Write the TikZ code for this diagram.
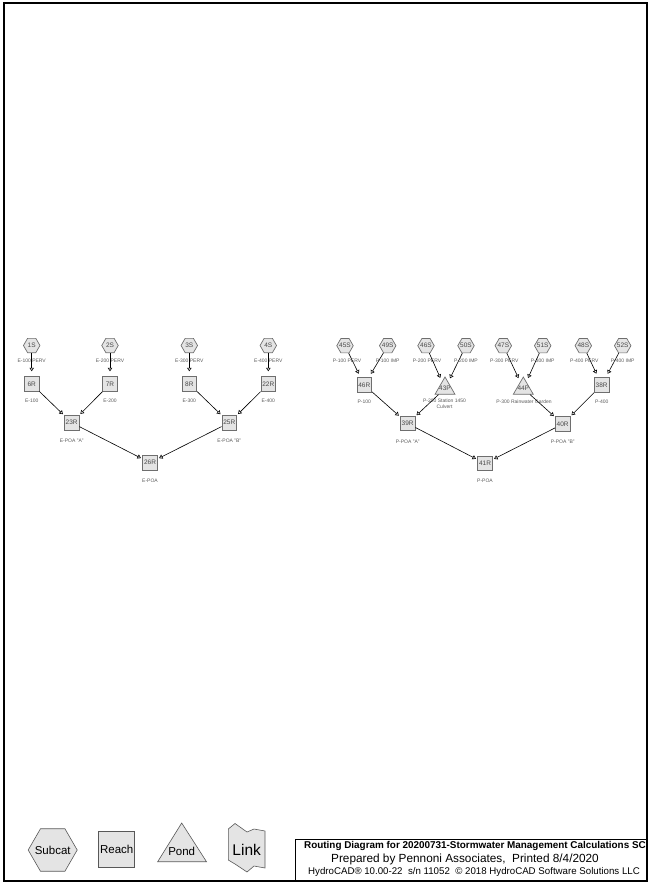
\documentclass[tikz,border=0pt]{standalone}
\usepackage{fontspec}
\setmainfont{Liberation Sans}
\usetikzlibrary{shapes.geometric,arrows.meta}
\definecolor{HCFill}{HTML}{E4E4E4}
\definecolor{HCEdge}{HTML}{6E6E6E}
\definecolor{HCText}{HTML}{484848}
\definecolor{HCLabel}{HTML}{5A5A5A}

\begin{document}
\begin{tikzpicture}[x=1pt,y=-1pt,
  subcat/.style={regular polygon,regular polygon sides=6,
    minimum size=16.5pt,inner sep=0pt,draw=HCEdge,fill=HCFill,line width=0.7pt},
  reach/.style={rectangle,minimum size=14.5pt,inner sep=0pt,draw=HCEdge,fill=HCFill,
    line width=0.9pt,text=HCText,font=\fontsize{6.5}{7}\selectfont},
  pond/.style={regular polygon,regular polygon sides=3,minimum size=23pt,inner sep=0pt,
    draw=HCEdge,fill=HCFill,line width=0.7pt},
  idtxt/.style={inner sep=0pt,text=HCText,font=\fontsize{6.5}{7}\selectfont},
  lbl/.style={inner sep=0pt,text=HCLabel,font=\fontsize{5}{5.6}\selectfont,align=center},
  flow/.style={draw=black,line width=0.6pt,-{Triangle[length=3.5pt,width=4.5pt,fill=white]}}]
  \useasboundingbox (0,0) rectangle (648,884);
  \draw[line width=2pt] (4,3) rectangle (647,881);

  % existing subcatchments
  \node[subcat,label={[idtxt]center:1S}] (s1) at (31.7,345.5) {};
  \node[subcat,label={[idtxt]center:2S}] (s2) at (110,345.5) {};
  \node[subcat,label={[idtxt]center:3S}] (s3) at (189.3,345.5) {};
  \node[subcat,label={[idtxt]center:4S}] (s4) at (268.3,345.5) {};
  \node[lbl] (s1l) at (31.7,360.5) {E-100 PERV};
  \node[lbl] (s2l) at (110,360.5) {E-200 PERV};
  \node[lbl] (s3l) at (189.3,360.5) {E-300 PERV};
  \node[lbl] (s4l) at (268.3,360.5) {E-400 PERV};

  \node[reach] (r6) at (31.7,384) {6R};
  \node[reach] (r7) at (110,384) {7R};
  \node[reach] (r8) at (189.3,384) {8R};
  \node[reach] (r22) at (268.3,384) {22R};
  \node[lbl] (r6l) at (31.7,401) {E-100};
  \node[lbl] (r7l) at (110,401) {E-200};
  \node[lbl] (r8l) at (189.3,401) {E-300};
  \node[lbl] (r22l) at (268.3,401) {E-400};

  \node[reach] (r23) at (71.7,422.7) {23R};
  \node[reach] (r25) at (229.3,422.7) {25R};
  \node[lbl] (r23l) at (71.7,441) {E-POA "A"};
  \node[lbl] (r25l) at (229.3,441) {E-POA "B"};
  \node[reach] (r26) at (150,462.7) {26R};
  \node[lbl] (r26l) at (150,480.5) {E-POA};

  % proposed subcatchments
  \node[subcat,label={[idtxt]center:45S}] (s45) at (345,345.7) {};
  \node[subcat,label={[idtxt]center:49S}] (s49) at (387.7,345.7) {};
  \node[subcat,label={[idtxt]center:46S}] (s46) at (426,345.7) {};
  \node[subcat,label={[idtxt]center:50S}] (s50) at (466,345.7) {};
  \node[subcat,label={[idtxt]center:47S}] (s47) at (503.3,345.7) {};
  \node[subcat,label={[idtxt]center:51S}] (s51) at (542.7,345.7) {};
  \node[subcat,label={[idtxt]center:48S}] (s48) at (583.3,345.7) {};
  \node[subcat,label={[idtxt]center:52S}] (s52) at (622.7,345.7) {};
  \node[lbl] (s45l) at (347,361) {P-100 PERV};
  \node[lbl] (s49l) at (387.7,361) {P-100 IMP};
  \node[lbl] (s46l) at (427,361) {P-200 PERV};
  \node[lbl] (s50l) at (466,361) {P-200 IMP};
  \node[lbl] (s47l) at (504.3,361) {P-300 PERV};
  \node[lbl] (s51l) at (542.7,361) {P-300 IMP};
  \node[lbl] (s48l) at (584.3,361) {P-400 PERV};
  \node[lbl] (s52l) at (622.7,361) {P-400 IMP};

  \node[reach] (r46) at (364.3,385) {46R};
  \node[pond,label={[idtxt]center:43P}] (p43) at (445,388.5) {};
  \node[pond,label={[idtxt]center:44P}] (p44) at (523.3,388.5) {};
  \node[reach] (r38) at (601.7,385) {38R};
  \node[lbl] (r46l) at (364.3,401.5) {P-100};
  \node[lbl] (p43l) at (444.5,403.5) {P-200 Station 1450\\Culvert};
  \node[lbl] (p44l) at (524,401.5) {P-300 Rainwater Garden};
  \node[lbl] (r38l) at (601.7,401.5) {P-400};

  \node[reach] (r39) at (407.7,423.5) {39R};
  \node[reach] (r40) at (562.7,424) {40R};
  \node[lbl] (r39l) at (407.7,441.5) {P-POA "A"};
  \node[lbl] (r40l) at (562.7,441.5) {P-POA "B"};
  \node[reach] (r41) at (485,463.5) {41R};
  \node[lbl] (r41l) at (485,480.5) {P-POA};

  % routing
  \draw[flow,shorten >=5pt] (s1) -- (r6);
  \draw[flow,shorten >=5pt] (s2) -- (r7);
  \draw[flow,shorten >=5pt] (s3) -- (r8);
  \draw[flow,shorten >=5pt] (s4) -- (r22);
  \draw[flow,shorten >=1.5pt] (r6) -- (r23);
  \draw[flow,shorten >=1.5pt] (r7) -- (r23);
  \draw[flow,shorten >=1.5pt] (r8) -- (r25);
  \draw[flow,shorten >=1.5pt] (r22) -- (r25);
  \draw[flow,shorten >=1.5pt] (r23) -- (r26);
  \draw[flow,shorten >=1.5pt] (r25) -- (r26);

  \draw[flow,shorten >=4pt] (s45) -- (r46);
  \draw[flow,shorten >=4pt] (s49) -- (r46);
  \draw[flow,shorten >=4pt] (s46) -- (p43);
  \draw[flow,shorten >=4pt] (s50) -- (p43);
  \draw[flow,shorten >=4pt] (s47) -- (p44);
  \draw[flow,shorten >=4pt] (s51) -- (p44);
  \draw[flow,shorten >=4pt] (s48) -- (r38);
  \draw[flow,shorten >=4pt] (s52) -- (r38);
  \draw[flow,shorten >=1.5pt] (r46) -- (r39);
  \draw[flow,shorten >=1.5pt] (p43) -- (r39);
  \draw[flow,shorten >=1.5pt] (p44) -- (r40);
  \draw[flow,shorten >=1.5pt] (r38) -- (r40);
  \draw[flow,shorten >=1.5pt] (r39) -- (r41);
  \draw[flow,shorten >=1.5pt] (r40) -- (r41);

  % legend
  \node[subcat,minimum size=49pt,draw=HCEdge!80!black,line width=0.6pt,
    label={[font=\fontsize{11.5}{12}\selectfont]center:Subcat}] (kSub) at (52.7,850) {};
  \node[reach,minimum size=36pt,draw=HCEdge!80!black,line width=0.6pt,text=black,
    font=\fontsize{11.5}{12}\selectfont] (kReach) at (116.7,849.3) {Reach};
  \draw[draw=HCEdge!80!black,fill=HCFill,line width=0.6pt]
    (181.7,823) -- (206.5,861.7) -- (157.7,861.7) -- cycle;
  \node[text=black,font=\fontsize{11.5}{12}\selectfont] (kPond) at (181.7,851) {Pond};
  \draw[draw=HCEdge!80!black,fill=HCFill,line width=0.6pt]
    (228.3,829) -- (235,823.5) -- (247,832) -- (254,829) -- (265,831)
    -- (265,868) -- (254,866) -- (247,872) -- (235,864) -- (228.3,860) -- cycle;
  \node[text=black,font=\fontsize{15.5}{16}\selectfont] (kLink) at (246.7,850) {Link};

  % title block
  \draw[line width=1.5pt] (295.5,839.5) rectangle (647,881);
  \node[font=\bfseries\fontsize{9.9}{11}\selectfont] (ttl) at (475,845.5)
    {Routing Diagram for 20200731-Stormwater Management Calculations SC};
  \node[font=\fontsize{11.8}{13}\selectfont] (prep) at (465,859)
    {Prepared by Pennoni Associates,\ \ Printed 8/4/2020};
  \node[font=\fontsize{9.7}{11}\selectfont] (ver) at (474,871.5)
    {HydroCAD® 10.00-22\ \ s/n 11052\ \ © 2018 HydroCAD Software Solutions LLC};
\end{tikzpicture}
\end{document}
